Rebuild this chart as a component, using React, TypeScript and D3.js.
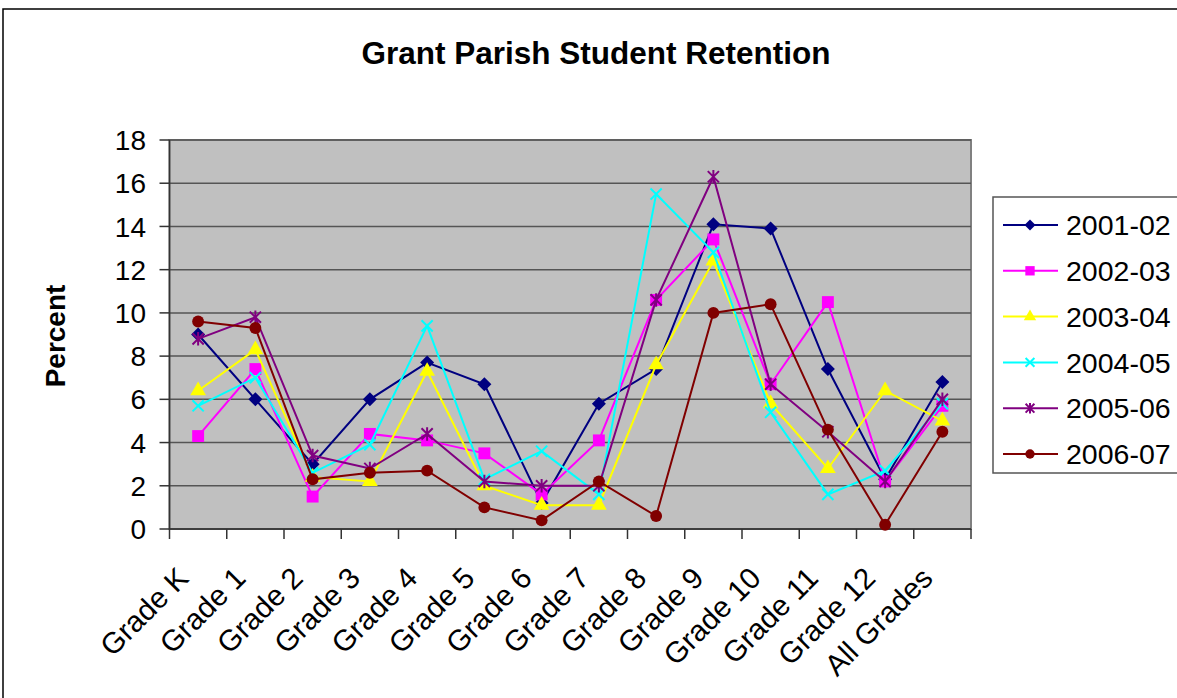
import * as d3 from 'd3';

const categories = ['Grade K', 'Grade 1', 'Grade 2', 'Grade 3', 'Grade 4', 'Grade 5', 'Grade 6', 'Grade 7', 'Grade 8', 'Grade 9', 'Grade 10', 'Grade 11', 'Grade 12', 'All Grades'];
const yTicks = [0, 2, 4, 6, 8, 10, 12, 14, 16, 18];

const s2001 = [9.0, 6.0, 3.0, 6.0, 7.7, 6.7, 1.2, 5.8, 7.4, 14.1, 13.9, 7.4, 2.3, 6.8];
const s2002 = [4.3, 7.4, 1.5, 4.4, 4.1, 3.5, 1.6, 4.1, 10.6, 13.4, 6.7, 10.5, 2.2, 5.7];
const s2003 = [6.4, 8.3, 2.4, 2.2, 7.3, 2.0, 1.1, 1.1, 7.6, 12.4, 5.8, 2.8, 6.4, 5.0];
const s2004 = [5.7, 7.0, 2.6, 3.9, 9.4, 2.3, 3.6, 1.6, 15.5, 12.8, 5.4, 1.6, 2.7, 5.8];
const s2005 = [8.8, 9.8, 3.4, 2.8, 4.4, 2.2, 2.0, 2.0, 10.6, 16.3, 6.7, 4.5, 2.2, 6.0];
const s2006 = [9.6, 9.3, 2.3, 2.6, 2.7, 1.0, 0.4, 2.2, 0.6, 10.0, 10.4, 4.6, 0.2, 4.5];

const seriesNames = ['2001-02', '2002-03', '2003-04', '2004-05', '2005-06', '2006-07'];
const seriesValues = [s2001, s2002, s2003, s2004, s2005, s2006];
const colors = ['#000080', '#FF00FF', '#FFFF00', '#00FFFF', '#800080', '#800000'];
const shapes = ['diamond', 'square', 'triangle', 'x', 'star', 'circle'];

const FONT = 'Liberation Sans, Arial, sans-serif';

function Marker({ shape, color, x, y, s }: { shape: string; color: string; x: number; y: number; s: number }) {
  if (shape === 'diamond') {
    return <path transform={`translate(${x},${y})`} d={`M0,${-s}L${s},0L0,${s}L${-s},0Z`} fill={color} />;
  }
  if (shape === 'square') {
    const h = s * 0.85;
    return <rect x={x - h} y={y - h} width={2 * h} height={2 * h} fill={color} />;
  }
  if (shape === 'triangle') {
    return <path transform={`translate(${x},${y})`} d={d3.symbol(d3.symbolTriangle, s * s * 2.2)() || ''} fill={color} />;
  }
  if (shape === 'circle') {
    return <circle cx={x} cy={y} r={s * 0.85} fill={color} />;
  }
  const h = s * 0.8;
  if (shape === 'x') {
    return <path transform={`translate(${x},${y})`} d={`M${-h},${-h}L${h},${h}M${-h},${h}L${h},${-h}`} stroke={color} strokeWidth={2} fill="none" />;
  }
  return (
    <path
      transform={`translate(${x},${y})`}
      d={`M${-h},${-h}L${h},${h}M${-h},${h}L${h},${-h}M0,${-h * 1.2}L0,${h * 1.2}`}
      stroke={color}
      strokeWidth={2}
      fill="none"
    />
  );
}

export default function App() {
  const width = 1177;
  const height = 698;
  const left = 169.5;
  const right = 971;
  const top = 140;
  const bottom = 529;

  const x = d3.scaleBand<string>().domain(categories).range([left, right]);
  const y = d3.scaleLinear().domain([0, 18]).range([bottom, top]);
  const cx = (c: string) => (x(c) as number) + x.bandwidth() / 2;

  const line = d3
    .line<number>()
    .x((_, i) => cx(categories[i]))
    .y((d) => y(d));

  const legendY = d3.scalePoint<string>().domain(seriesNames).range([225, 454]);

  return (
    <svg width={width} height={height} style={{ position: 'absolute', left: 0, top: 0, fontFamily: FONT }}>
      <rect x={0} y={0} width={width} height={height} fill="#fff" />
      <rect x={3} y={9} width={width + 10} height={height + 10} fill="none" stroke="#000" strokeWidth={1.5} />

      <text x={596} y={64} textAnchor="middle" fontSize={31.5} fontWeight="bold">
        Grant Parish Student Retention
      </text>

      <rect x={left} y={top} width={right - left} height={bottom - top} fill="#C0C0C0" stroke="#808080" strokeWidth={2} />
      {yTicks.map((t) => (
        <line key={t} x1={left} x2={right} y1={y(t)} y2={y(t)} stroke="#555" strokeWidth={1.5} />
      ))}

      <line x1={left} x2={left} y1={top} y2={bottom} stroke="#333" strokeWidth={1.5} />
      <line x1={left} x2={right} y1={bottom} y2={bottom} stroke="#333" strokeWidth={1.5} />
      {yTicks.map((t) => (
        <g key={t}>
          <line x1={left - 10} x2={left} y1={y(t)} y2={y(t)} stroke="#333" strokeWidth={1.5} />
          <text x={146} y={y(t)} dy="0.36em" textAnchor="end" fontSize={28}>
            {t}
          </text>
        </g>
      ))}
      {categories.concat(['']).map((c, i) => {
        const xx = left + i * x.bandwidth();
        return <line key={i} x1={xx} x2={xx} y1={bottom} y2={bottom + 10} stroke="#333" strokeWidth={1.5} />;
      })}
      {categories.map((c) => (
        <text
          key={c}
          transform={`translate(${cx(c) - 8},${580}) rotate(-45)`}
          textAnchor="end"
          fontSize={29.5}
        >
          {c}
        </text>
      ))}

      <text transform="translate(65,336) rotate(-90)" textAnchor="middle" fontSize={28} fontWeight="bold">
        Percent
      </text>

      {seriesValues.map((vals, si) => (
        <g key={si}>
          <path d={line(vals) || ''} fill="none" stroke={colors[si]} strokeWidth={2} />
          {vals.map((v, i) => (
            <Marker key={i} shape={shapes[si]} color={colors[si]} x={cx(categories[i])} y={y(v)} s={7} />
          ))}
        </g>
      ))}

      <rect x={993} y={197} width={200} height={276} fill="#fff" stroke="#555" strokeWidth={1.5} />
      {seriesNames.map((n, si) => {
        const ly = legendY(n) as number;
        return (
          <g key={n}>
            <line x1={1003} x2={1058} y1={ly} y2={ly} stroke={colors[si]} strokeWidth={2} />
            <Marker shape={shapes[si]} color={colors[si]} x={1030} y={ly} s={5.5} />
            <text x={1066} y={ly} dy="0.36em" fontSize={28.5}>
              {n}
            </text>
          </g>
        );
      })}
    </svg>
  );
}
